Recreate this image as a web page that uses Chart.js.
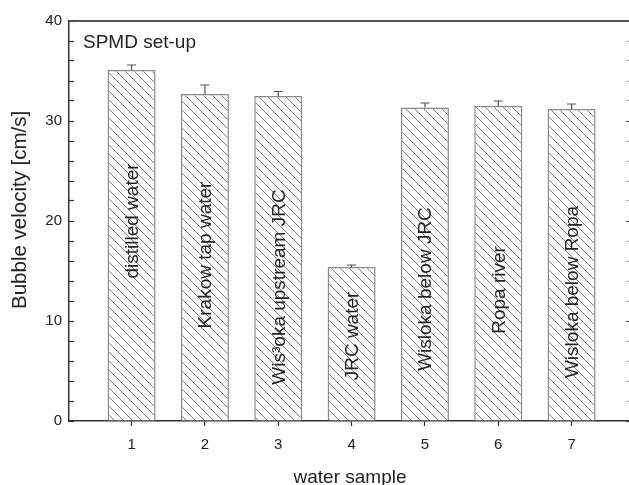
<!DOCTYPE html>
<html><head><meta charset="utf-8">
<script src="https://cdn.jsdelivr.net/npm/chart.js@4"></script>
<style>
html,body{margin:0;padding:0;overflow:hidden;background:#fff}
#wrap{width:631px;height:485px;position:relative}
</style>
</head><body>
<div id="wrap"><canvas id="c"></canvas></div>
<script>
// ---- data ----
const samples = [1, 2, 3, 4, 5, 6, 7];
const tickLabels = ['1', '2', '3', '4', '5', '6', '7'];
const sampleNames = ['distilled water', 'Krakow tap water', 'Wis³oka upstream JRC', 'JRC water', 'Wisloka below JRC', 'Ropa river', 'Wisloka below Ropa'];
const velocity = [35.1, 32.7, 32.5, 15.4, 31.35, 31.5, 31.2];
const velocityErr = [0.5, 0.9, 0.45, 0.2, 0.45, 0.5, 0.5];
const nameAnchor = [20.0, 16.6, 13.4, 8.5, 13.2, 13.1, 12.9];
const yTicksMajor = [0, 10, 20, 30, 40];

const FONT = '"Liberation Sans", Arial, sans-serif';
Chart.defaults.font.family = FONT;

const canvas = document.getElementById('c');
const mainCtx = canvas.getContext('2d');
function hatch() {
  const s = 9, t = document.createElement('canvas');
  t.width = s; t.height = s;
  const g = t.getContext('2d');
  g.fillStyle = '#fff'; g.fillRect(0, 0, s, s);
  g.strokeStyle = '#7c7c7c'; g.lineWidth = 1;
  g.beginPath();
  for (const k of [-1, 0, 1]) { g.moveTo(k * s, 0); g.lineTo(k * s + s, s); }
  g.stroke();
  return mainCtx.createPattern(t, 'repeat');
}

const annot = {
  id: 'annot',
  afterDatasetsDraw(chart) {
    const { ctx, scales: { x, y }, chartArea } = chart;
    ctx.save();
    ctx.strokeStyle = '#555'; ctx.lineWidth = 1.2;
    samples.forEach((s, i) => {
      const px = x.getPixelForValue(s);
      const y0 = y.getPixelForValue(velocity[i]);
      const y1 = y.getPixelForValue(velocity[i] + velocityErr[i]);
      ctx.beginPath();
      ctx.moveTo(px, y0); ctx.lineTo(px, y1);
      ctx.moveTo(px - 4.5, y1); ctx.lineTo(px + 4.5, y1);
      ctx.stroke();
    });
    ctx.fillStyle = '#222';
    ctx.font = '19px ' + FONT;
    ctx.textAlign = 'center'; ctx.textBaseline = 'middle';
    samples.forEach((s, i) => {
      ctx.save();
      ctx.translate(x.getPixelForValue(s) + 1, y.getPixelForValue(nameAnchor[i]));
      ctx.rotate(-Math.PI / 2);
      ctx.fillText(sampleNames[i], 0, 0);
      ctx.restore();
    });
    ctx.textAlign = 'left'; ctx.textBaseline = 'alphabetic';
    ctx.fillText('SPMD set-up', chartArea.left + 14, chartArea.top + 27);
    ctx.save();
    ctx.font = '20.5px ' + FONT;
    ctx.translate(26, 309);
    ctx.rotate(-Math.PI / 2);
    ctx.fillText('Bubble velocity [cm/s]', 0, 0);
    ctx.restore();
    ctx.restore();
  }
};

const XMIN = 0.1463, XMAX = 7.81;

new Chart(canvas, {
  type: 'bar',
  data: {
    datasets: [{
      data: samples.map((s, i) => ({ x: s, y: velocity[i] })),
      backgroundColor: hatch(),
      borderColor: '#8a8a8a',
      borderWidth: 1.5,
      barPercentage: 0.6545,
      categoryPercentage: 1,
      xAxisID: 'x', yAxisID: 'y'
    }]
  },
  options: {
    responsive: true, maintainAspectRatio: false, animation: false,
    layout: { padding: 0 },
    plugins: { legend: { display: false }, tooltip: { enabled: false } },
    scales: {
      x: {
        type: 'linear', position: 'bottom', min: XMIN, max: XMAX, offset: false,
        afterBuildTicks: s => { s.ticks = samples.map(v => ({ value: v })); },
        afterFit: s => { s.height = 64; },
        ticks: { callback: v => { const k = samples.indexOf(v); return k >= 0 ? tickLabels[k] : ''; }, font: { size: 15 }, color: '#222', padding: 10, maxRotation: 0, autoSkip: false },
        grid: { display: true, offset: false, drawOnChartArea: false, tickLength: 5, tickColor: '#333', tickWidth: 1.2 },
        border: { color: '#333', width: 1.5 },
        title: { display: true, text: 'water sample', font: { size: 19, lineHeight: 1 }, color: '#222', padding: { top: 0, bottom: -2 } }
      },
      x2: {
        type: 'linear', axis: 'x', position: 'top', min: XMIN, max: XMAX, offset: false,
        ticks: { display: false }, grid: { display: false, offset: false },
        border: { color: '#555', width: 2 },
        afterFit: s => { s.height = 16; }
      },
      y: {
        type: 'linear', position: 'left', min: 0, max: 40,
        ticks: { stepSize: 2, autoSkip: false, callback: v => yTicksMajor.includes(v) ? String(v) : '', font: { size: 15 }, color: '#222', padding: 12 },
        grid: { drawOnChartArea: false, tickLength: -5, tickColor: '#333', tickWidth: 1.2 },
        border: { color: '#333', width: 1.5 },
        afterFit: s => { s.width = 69; }
      },
      y2: {
        type: 'linear', axis: 'y', position: 'right', min: 0, max: 40,
        ticks: { stepSize: 2, autoSkip: false, callback: () => '' },
        grid: { drawOnChartArea: false, tickLength: -5, tickWidth: 1, tickColor: c => (c.tick && yTicksMajor.includes(c.tick.value)) ? '#444' : '#aaa' },
        border: { color: '#555', width: 1.5 },
        afterFit: s => { s.width = 0; }
      }
    }
  },
  plugins: [annot]
});
</script>
</body></html>
